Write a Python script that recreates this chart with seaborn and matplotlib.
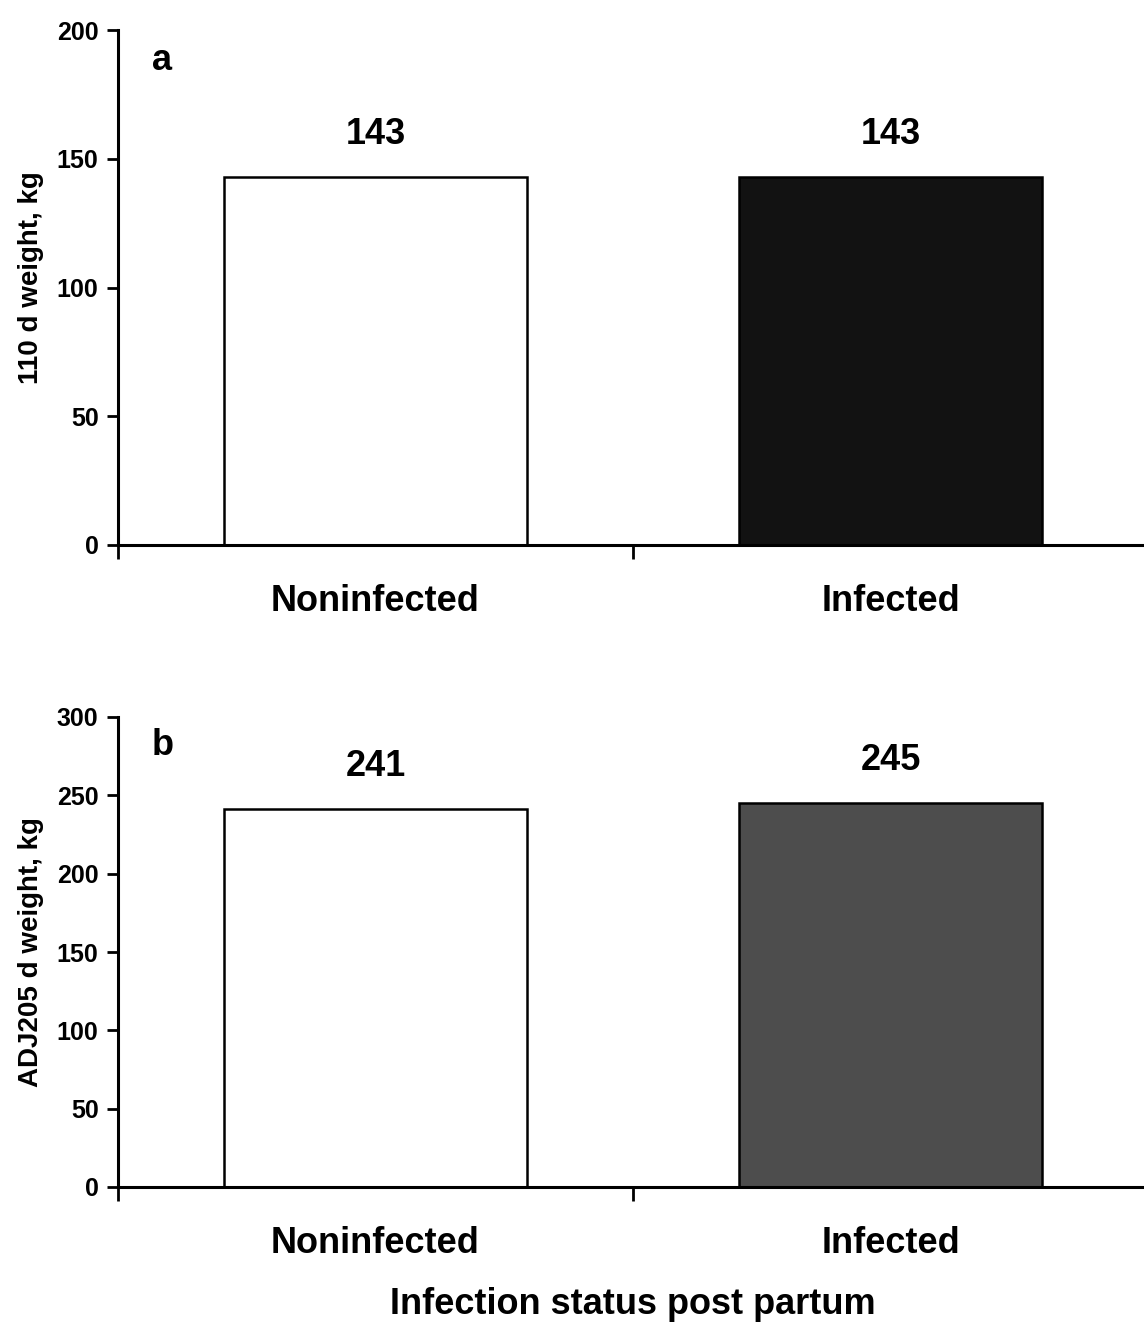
import matplotlib
matplotlib.use("Agg")
import matplotlib.pyplot as plt
import seaborn as sns
import pandas as pd

# Data
categories = ["Noninfected", "Infected"]
weight_110d = [143, 143]
weight_adj205 = [241, 245]
colors_a = ["#ffffff", "#121212"]
colors_b = ["#ffffff", "#4d4d4d"]

sns.set_theme(style="white")
plt.rcParams["font.family"] = ["Liberation Sans", "DejaVu Sans"]
plt.rcParams["font.weight"] = "bold"
plt.rcParams["text.color"] = "black"
plt.rcParams["axes.labelcolor"] = "black"
plt.rcParams["xtick.color"] = "black"
plt.rcParams["ytick.color"] = "black"

fig = plt.figure(figsize=(11.44, 13.28), dpi=100)
W, H = 1144, 1328


def make_axes(left, top, right, bottom):
    return fig.add_axes([left / W, 1 - bottom / H, (right - left) / W, (bottom - top) / H])


ax_a = make_axes(118, 30, 1148, 545)
ax_b = make_axes(118, 717, 1148, 1187)


def draw_panel(ax, values, colors, ymax, ylabel, letter, label_y):
    df = pd.DataFrame({"status": categories, "weight": values})
    sns.barplot(data=df, x="status", y="weight", hue="status", palette=colors,
                order=categories, hue_order=categories, width=0.59,
                edgecolor="black", linewidth=1.8, legend=False, ax=ax)
    ax.set_ylim(0, ymax)
    ax.set_xlim(-0.5, 1.5)
    ax.set_yticks(range(0, ymax + 1, 50))
    ax.tick_params(axis="y", direction="out", length=8, width=2, left=True,
                   labelsize=18, pad=6, colors="black")
    for lbl in ax.get_yticklabels():
        lbl.set_fontweight("bold")
    # category labels centred under bars, ticks at category boundaries
    ax.set_xticks([0, 1])
    ax.set_xticklabels(categories, fontsize=26, fontweight="bold", color="black")
    ax.tick_params(axis="x", which="major", length=0, pad=28)
    ax.set_xticks([-0.5, 0.5, 1.5], minor=True)
    ax.tick_params(axis="x", which="minor", direction="out", length=10, width=2,
                   bottom=True, colors="black")
    for side in ("top", "right"):
        ax.spines[side].set_visible(False)
    for side in ("left", "bottom"):
        ax.spines[side].set_linewidth(2.2)
        ax.spines[side].set_color("black")
    ax.set_xlabel("")
    ax.set_ylabel(ylabel, fontsize=20, fontweight="bold", color="black")
    ax.yaxis.set_label_coords(-0.072, label_y)
    for i, v in enumerate(values):
        ax.annotate(f"{v}", xy=(i, v), xytext=(0, 18), textcoords="offset points",
                    ha="center", va="bottom", fontsize=26, fontweight="bold",
                    color="black")
    ax.text(0.043, 0.94, letter, transform=ax.transAxes, fontsize=26,
            fontweight="bold", ha="center", va="center", color="black")


draw_panel(ax_a, weight_110d, colors_a, 200, "110 d weight, kg", "a", 0.52)
draw_panel(ax_b, weight_adj205, colors_b, 300, "ADJ205 d weight, kg", "b", 0.5)

fig.text(633 / W, 1 - 1305 / H, "Infection status post partum", fontsize=26,
         fontweight="bold", ha="center", va="center", color="black")

fig.savefig("out.png", dpi=100, facecolor="white")
